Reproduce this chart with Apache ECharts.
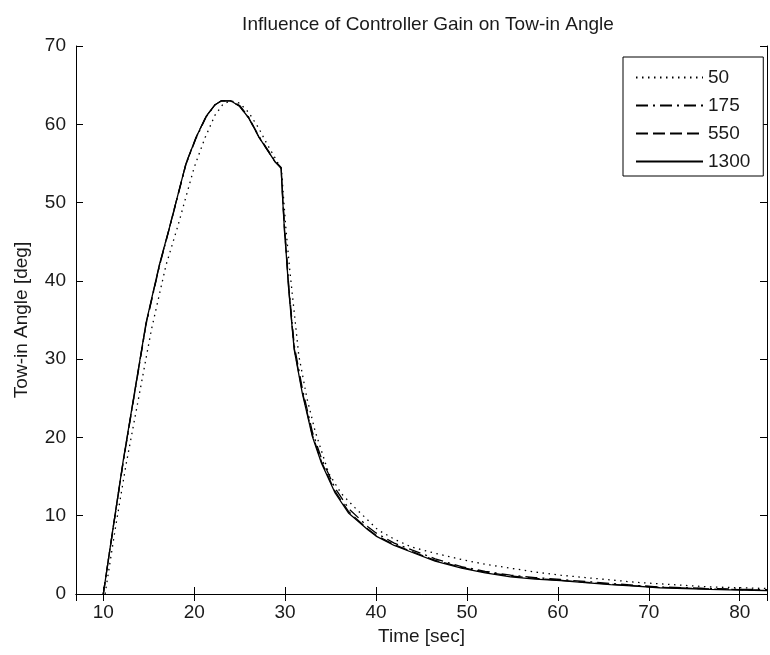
<!DOCTYPE html>
<html>
<head>
<meta charset="utf-8">
<script src="https://cdn.jsdelivr.net/npm/echarts@6/dist/echarts.min.js"></script>
<style>
  html, body { margin: 0; padding: 0; background: #fff; }
  #chart { width: 770px; height: 655px; }
</style>
</head>
<body>
<div id="chart"></div>
<script>
// Gain values shown in the legend
const gains = ['50', '175', '550', '1300'];

// Time samples [sec] for the three higher-gain runs
const timeHigh = [10.0, 11.1, 12.2, 13.3, 14.7, 16.2, 17.3, 19.1, 20.2, 21.3, 22.3, 23.0, 24.0, 25.0, 26.0, 27.1, 28.0, 28.9, 29.56, 29.75, 29.95, 30.1, 30.4, 30.8, 31.0, 31.9, 33.0, 34.0, 35.5, 37.0, 39.1, 40.0, 42.0, 44.0, 46.5, 49.4, 52.0, 54.8, 57.5, 60.3, 63.0, 65.8, 68.5, 71.2, 74.0, 76.7, 80.0, 83.0];

// Tow-in angle [deg], gain 1300
const angle1300 = [0, 8.6, 17.1, 24.8, 34.6, 42.2, 46.9, 55.0, 58.3, 61.0, 62.5, 63.0, 63.0, 62.3, 60.8, 58.4, 56.8, 55.2, 54.4, 50.0, 46.0, 43.8, 38.8, 33.7, 31.2, 25.6, 20.1, 16.7, 12.9, 10.3, 8.2, 7.4, 6.2, 5.3, 4.2, 3.3, 2.7, 2.2, 1.9, 1.7, 1.45, 1.2, 1.0, 0.8, 0.7, 0.6, 0.5, 0.45];

// Tow-in angle [deg], gain 550
const angle550 = [0, 8.6, 17.0, 24.7, 34.5, 42.1, 46.9, 55.0, 58.3, 61.0, 62.5, 63.0, 63.0, 62.3, 60.8, 58.4, 56.8, 55.2, 54.4, 50.2, 46.2, 44.0, 39.0, 33.9, 31.4, 25.8, 20.3, 16.9, 13.1, 10.5, 8.3, 7.5, 6.3, 5.4, 4.3, 3.4, 2.8, 2.3, 2.0, 1.75, 1.5, 1.25, 1.05, 0.85, 0.75, 0.65, 0.55, 0.5];

// Tow-in angle [deg], gain 175
const angle175 = [0, 8.5, 16.9, 24.6, 34.4, 42.0, 46.8, 54.9, 58.2, 60.9, 62.5, 63.0, 63.0, 62.4, 60.9, 58.5, 56.9, 55.3, 54.5, 50.5, 46.6, 44.4, 39.4, 34.3, 31.8, 26.2, 20.7, 17.3, 13.5, 10.9, 8.6, 7.8, 6.5, 5.6, 4.5, 3.5, 2.9, 2.4, 2.1, 1.85, 1.6, 1.35, 1.1, 0.9, 0.8, 0.7, 0.6, 0.55];

// Time samples [sec] and tow-in angle [deg] for gain 50
const time50 = [10.2, 11.3, 12.5, 13.8, 15.3, 16.9, 18.2, 20.0, 21.2, 22.3, 23.2, 24.0, 25.0, 26.0, 27.1, 28.0, 29.0, 29.6, 29.8, 30.1, 30.5, 31.0, 31.5, 32.4, 33.3, 34.8, 36.2, 37.7, 40.2, 42.0, 43.9, 46.5, 49.4, 52.0, 54.8, 57.5, 60.3, 63.0, 65.8, 68.5, 71.2, 74.0, 76.7, 80.0, 83.0];
const angle50 = [0, 8.2, 16.5, 24.5, 33.8, 42.0, 47.0, 54.5, 58.3, 61.2, 62.6, 63.0, 62.7, 61.5, 59.5, 57.5, 55.5, 54.2, 51.0, 46.5, 41.5, 36.0, 30.5, 25.0, 20.8, 15.4, 12.8, 11.0, 8.2, 7.0, 6.0, 5.2, 4.4, 3.8, 3.3, 2.8, 2.4, 2.1, 1.8, 1.5, 1.3, 1.1, 0.9, 0.8, 0.7];

// Axis tick values
const xTicks = [10, 20, 30, 40, 50, 60, 70, 80];
const yTicks = [0, 10, 20, 30, 40, 50, 60, 70];

const FONT = 'Liberation Sans';
const TXT = '#1a1a1a';

function pairs(ts, vs) { return ts.map((t, i) => [t, vs[i]]); }

const seriesDefs = [
  { name: gains[0], data: pairs(time50, angle50), dash: [1.5, 4.5] },
  { name: gains[1], data: pairs(timeHigh, angle175), dash: [12, 5, 2, 5] },
  { name: gains[2], data: pairs(timeHigh, angle550), dash: [12, 5] },
  { name: gains[3], data: pairs(timeHigh, angle1300), dash: 'solid' }
];

const xLabelFmt = v => (xTicks.indexOf(v) >= 0 ? String(v) : '');
const yLabelFmt = v => (yTicks.indexOf(v) >= 0 ? String(v) : '');

const axisLineCfg = { show: true, lineStyle: { color: '#000', width: 1 } };
const tickCfg = { show: true, inside: true, length: 7, lineStyle: { color: '#000', width: 1 } };

const chart = echarts.init(document.getElementById('chart'), null, { renderer: 'canvas' });
chart.setOption({
  animation: false,
  backgroundColor: '#fff',
  title: {
    text: 'Influence of Controller Gain on Tow-in Angle',
    left: 423, top: 10, textAlign: 'center',
    textStyle: { fontFamily: FONT, fontSize: 19, fontWeight: 'normal', color: TXT }
  },
  grid: { left: 76, top: 46, width: 697, height: 548 },
  legend: {
    data: gains,
    orient: 'vertical',
    left: 623, top: 57,
    itemWidth: 67, itemHeight: 14, itemGap: 9,
    padding: [11, 13, 5, 12],
    backgroundColor: '#fff',
    borderColor: '#000', borderWidth: 1, borderRadius: 0,
    textStyle: { fontFamily: FONT, fontSize: 19, lineHeight: 19, color: TXT },
    itemStyle: { opacity: 0 }
  },
  xAxis: [
    {
      type: 'value', min: 7, max: 83, minInterval: 10, maxInterval: 10,
      name: 'Time [sec]', nameLocation: 'middle', nameGap: 30,
      nameTextStyle: { fontFamily: FONT, fontSize: 19, color: TXT },
      axisLine: axisLineCfg, axisTick: tickCfg, splitLine: { show: false },
      axisLabel: { fontFamily: FONT, fontSize: 19, color: TXT, margin: 9, formatter: xLabelFmt }
    },
    {
      type: 'value', position: 'top', min: 7, max: 83, minInterval: 10, maxInterval: 10,
      axisLine: axisLineCfg, axisTick: tickCfg, splitLine: { show: false },
      axisLabel: { show: false }
    }
  ],
  yAxis: [
    {
      type: 'value', min: 0, max: 70, interval: 10,
      name: 'Tow-in Angle [deg]', nameLocation: 'middle', nameGap: 45, nameRotate: 90,
      nameTextStyle: { fontFamily: FONT, fontSize: 19, color: TXT },
      axisLine: axisLineCfg, axisTick: tickCfg, splitLine: { show: false },
      axisLabel: { fontFamily: FONT, fontSize: 19, color: TXT, margin: 10, formatter: yLabelFmt }
    },
    {
      type: 'value', position: 'right', min: 0, max: 70, interval: 10,
      axisLine: axisLineCfg, axisTick: tickCfg, splitLine: { show: false },
      axisLabel: { show: false }
    }
  ],
  series: seriesDefs.map(s => ({
    name: s.name,
    type: 'line',
    xAxisIndex: 0, yAxisIndex: 0,
    data: s.data,
    symbol: 'none', showSymbol: false,
    smooth: false,
    lineStyle: { color: '#000', width: 1.3, type: s.dash },
    itemStyle: { color: '#000' },
    emphasis: { disabled: true }
  }))
});
</script>
</body>
</html>
